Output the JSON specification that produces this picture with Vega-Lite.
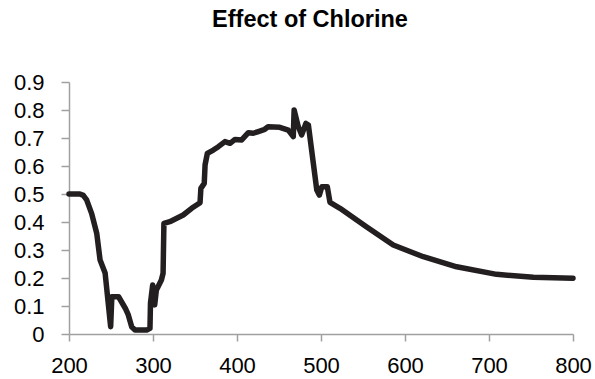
{
  "$schema": "https://vega.github.io/schema/vega-lite/v6.json",
  "width": 504,
  "height": 252,
  "autosize": {"type": "none"},
  "padding": {"left": 69, "top": 82, "right": 22, "bottom": 45},
  "background": "white",
  "title": {
    "text": "Effect of Chlorine",
    "font": "Liberation Sans",
    "fontSize": 23.5,
    "fontWeight": "bold",
    "color": "#000000",
    "anchor": "middle",
    "dx": -11,
    "offset": 40
  },
  "config": {"view": {"stroke": null}},
  "data": {
    "values": [
      {"x": 200, "y": 0.5},
      {"x": 213, "y": 0.5},
      {"x": 217, "y": 0.495},
      {"x": 221, "y": 0.479},
      {"x": 227, "y": 0.43},
      {"x": 233, "y": 0.36},
      {"x": 237, "y": 0.264},
      {"x": 243, "y": 0.218},
      {"x": 249.6, "y": 0.026},
      {"x": 251, "y": 0.133},
      {"x": 259, "y": 0.133},
      {"x": 267, "y": 0.092},
      {"x": 270.6, "y": 0.068},
      {"x": 274.6, "y": 0.026},
      {"x": 278.6, "y": 0.014},
      {"x": 292.5, "y": 0.014},
      {"x": 296.4, "y": 0.02},
      {"x": 297, "y": 0.11},
      {"x": 299.6, "y": 0.175},
      {"x": 302, "y": 0.104},
      {"x": 304, "y": 0.157},
      {"x": 306, "y": 0.169},
      {"x": 310, "y": 0.193},
      {"x": 312, "y": 0.217},
      {"x": 313, "y": 0.395},
      {"x": 320, "y": 0.401},
      {"x": 336, "y": 0.425},
      {"x": 346, "y": 0.449},
      {"x": 356, "y": 0.469},
      {"x": 357, "y": 0.52},
      {"x": 361, "y": 0.538},
      {"x": 362, "y": 0.604},
      {"x": 364.7, "y": 0.645},
      {"x": 371.8, "y": 0.657},
      {"x": 377.8, "y": 0.669},
      {"x": 385.7, "y": 0.687},
      {"x": 391.7, "y": 0.681},
      {"x": 397.6, "y": 0.695},
      {"x": 405.6, "y": 0.693},
      {"x": 413.5, "y": 0.719},
      {"x": 419.4, "y": 0.717},
      {"x": 425.4, "y": 0.723},
      {"x": 433, "y": 0.731},
      {"x": 437, "y": 0.74},
      {"x": 451, "y": 0.738},
      {"x": 461, "y": 0.728},
      {"x": 467, "y": 0.705},
      {"x": 468, "y": 0.8},
      {"x": 473, "y": 0.74},
      {"x": 477, "y": 0.711},
      {"x": 482, "y": 0.752},
      {"x": 485, "y": 0.746},
      {"x": 495, "y": 0.514},
      {"x": 498, "y": 0.496},
      {"x": 501, "y": 0.526},
      {"x": 507.5, "y": 0.526},
      {"x": 510.7, "y": 0.47},
      {"x": 522.6, "y": 0.449},
      {"x": 554, "y": 0.383},
      {"x": 586, "y": 0.318},
      {"x": 621.8, "y": 0.276},
      {"x": 661.5, "y": 0.24},
      {"x": 709, "y": 0.213},
      {"x": 752.8, "y": 0.2025},
      {"x": 800, "y": 0.199}
    ]
  },
  "mark": {"type": "line", "color": "#231f20", "strokeWidth": 5.5, "strokeJoin": "round", "strokeCap": "round", "clip": false},
  "encoding": {
    "x": {
      "field": "x",
      "type": "quantitative",
      "scale": {"domain": [200, 800], "nice": false, "zero": false},
      "axis": {
        "title": null,
        "values": [200, 300, 400, 500, 600, 700, 800],
        "grid": false,
        "domainColor": "#a0a0a0",
        "domainWidth": 1.5,
        "tickColor": "#a0a0a0",
        "tickWidth": 1.5,
        "tickSize": 7,
        "labelFont": "Liberation Sans",
        "labelFontSize": 22,
        "labelColor": "#000000",
        "labelPadding": 14,
        "labelFlush": false,
        "labelOverlap": false
      }
    },
    "y": {
      "field": "y",
      "type": "quantitative",
      "scale": {"domain": [0, 0.9], "nice": false},
      "axis": {
        "title": null,
        "values": [0, 0.1, 0.2, 0.3, 0.4, 0.5, 0.6, 0.7, 0.8, 0.9],
        "format": "~g",
        "grid": false,
        "domainColor": "#a0a0a0",
        "domainWidth": 1.5,
        "tickColor": "#a0a0a0",
        "tickWidth": 1.5,
        "tickSize": 8,
        "labelFont": "Liberation Sans",
        "labelFontSize": 22,
        "labelColor": "#000000",
        "labelPadding": 17,
        "labelFlush": false,
        "labelOverlap": false
      }
    }
  }
}
